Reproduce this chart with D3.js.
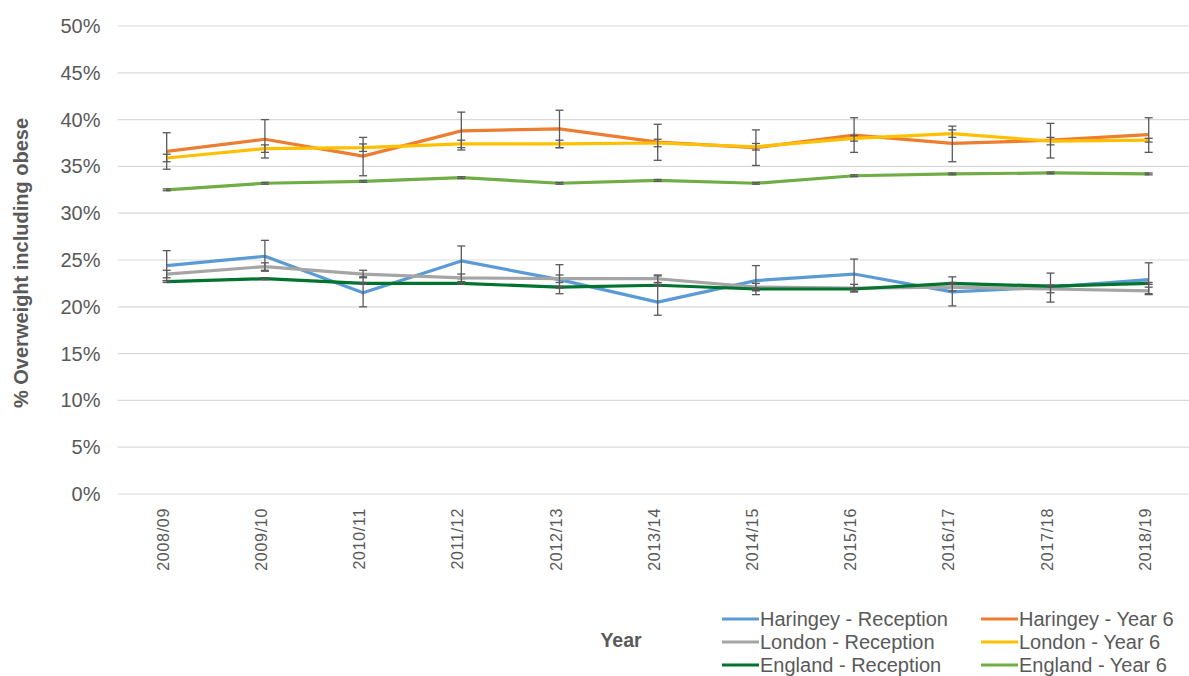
<!DOCTYPE html>
<html>
<head>
<meta charset="utf-8">
<script src="https://cdn.jsdelivr.net/npm/d3@7"></script>
<style>
  body { margin: 0; background: #fff; }
  svg { font-family: "Liberation Sans", Arial, sans-serif; display: block; }
</style>
</head>
<body>
<script>
const width = 1189;
const height = 676;

const years = ["2008/09", "2009/10", "2010/11", "2011/12", "2012/13", "2013/14",
  "2014/15", "2015/16", "2016/17", "2017/18", "2018/19"];
const yTicks = [0, 5, 10, 15, 20, 25, 30, 35, 40, 45, 50];

// values in %, with lower / upper confidence limits
const haringeyRec = [24.4, 25.4, 21.5, 24.9, 22.9, 20.5, 22.8, 23.5, 21.6, 22.1, 22.9];
const haringeyRecLo = [22.8, 23.8, 20.0, 23.0, 21.4, 19.1, 21.3, 21.6, 20.1, 20.5, 21.4];
const haringeyRecHi = [26.0, 27.1, 23.2, 26.5, 24.5, 23.3, 24.4, 25.1, 23.2, 23.6, 24.7];

const haringeyY6 = [36.6, 37.9, 36.1, 38.8, 39.0, 37.6, 37.0, 38.35, 37.45, 37.8, 38.4];
const haringeyY6Lo = [34.7, 35.9, 34.0, 36.75, 37.0, 35.65, 35.1, 36.5, 35.5, 35.9, 36.5];
const haringeyY6Hi = [38.6, 40.0, 38.1, 40.8, 41.0, 39.5, 38.9, 40.2, 39.3, 39.6, 40.2];

const londonRec = [23.5, 24.3, 23.5, 23.1, 23.0, 23.0, 22.1, 22.0, 22.1, 21.9, 21.7];
const londonRecLo = [23.1, 23.9, 23.1, 22.7, 22.6, 22.6, 21.7, 21.6, 21.7, 21.5, 21.3];
const londonRecHi = [23.9, 24.7, 23.9, 23.5, 23.4, 23.4, 22.5, 22.4, 22.5, 22.3, 22.1];

const londonY6 = [35.9, 36.9, 37.0, 37.4, 37.4, 37.5, 37.1, 38.0, 38.5, 37.7, 37.8];
const londonY6Lo = [35.5, 36.5, 36.6, 37.0, 37.0, 37.1, 36.75, 37.7, 38.1, 37.3, 37.6];
const londonY6Hi = [36.3, 37.3, 37.4, 37.8, 37.8, 37.9, 37.45, 38.3, 38.9, 38.1, 38.0];

const englandRec = [22.7, 23.0, 22.5, 22.5, 22.1, 22.3, 21.9, 21.9, 22.5, 22.2, 22.5];
const englandRecLo = [22.6, 22.9, 22.4, 22.4, 22.0, 22.2, 21.8, 21.8, 22.4, 22.1, 22.4];
const englandRecHi = [22.8, 23.1, 22.6, 22.6, 22.2, 22.4, 22.0, 22.0, 22.6, 22.3, 22.6];

const englandY6 = [32.5, 33.2, 33.4, 33.8, 33.2, 33.5, 33.2, 34.0, 34.2, 34.3, 34.2];
const englandY6Lo = [32.4, 33.1, 33.3, 33.7, 33.1, 33.4, 33.1, 33.9, 34.1, 34.2, 34.1];
const englandY6Hi = [32.6, 33.3, 33.5, 33.9, 33.3, 33.6, 33.3, 34.1, 34.3, 34.4, 34.3];

const seriesNames = ["Haringey - Reception", "Haringey - Year 6", "London - Reception",
  "London - Year 6", "England - Reception", "England - Year 6"];
const colour = ["#5B9BD5", "#ED7D31", "#A5A5A5", "#FFC000", "#00732E", "#70AD47"];

const series = [
  { v: haringeyRec, lo: haringeyRecLo, hi: haringeyRecHi },
  { v: haringeyY6, lo: haringeyY6Lo, hi: haringeyY6Hi },
  { v: londonRec, lo: londonRecLo, hi: londonRecHi },
  { v: londonY6, lo: londonY6Lo, hi: londonY6Hi },
  { v: englandRec, lo: englandRecLo, hi: englandRecHi },
  { v: englandY6, lo: englandY6Lo, hi: englandY6Hi },
].map((s, i) => ({ ...s, name: seriesNames[i], colour: colour[i] }));

const svg = d3.select("body").append("svg")
  .attr("width", width)
  .attr("height", height);

const x = d3.scaleBand().domain(years).range([117.6, 1197.8]);
const y = d3.scaleLinear().domain([0, 50]).range([494, 26]);
const cx = (i) => x(years[i]) + x.bandwidth() / 2;

// gridlines
svg.append("g")
  .selectAll("line")
  .data(yTicks)
  .join("line")
  .attr("x1", 117.6)
  .attr("x2", width)
  .attr("y1", (d) => y(d))
  .attr("y2", (d) => y(d))
  .attr("stroke", "#d9d9d9")
  .attr("stroke-width", 1.2);

// y axis labels
svg.append("g")
  .selectAll("text")
  .data(yTicks)
  .join("text")
  .attr("x", 100.5)
  .attr("y", (d) => y(d))
  .attr("dy", "0.35em")
  .attr("text-anchor", "end")
  .attr("font-size", 20)
  .attr("fill", "#595959")
  .text((d) => d + "%");

// x axis labels
svg.append("g")
  .selectAll("text")
  .data(years)
  .join("text")
  .attr("transform", (d) => `translate(${x(d) + x.bandwidth() / 2 + 2},508) rotate(-90)`)
  .attr("text-anchor", "end")
  .attr("font-size", 16)
  .attr("letter-spacing", 0.7)
  .attr("fill", "#595959")
  .text((d) => d);

// axis titles
svg.append("text")
  .attr("transform", "translate(28,263) rotate(-90)")
  .attr("text-anchor", "middle")
  .attr("font-size", 20)
  .attr("font-weight", "bold")
  .attr("fill", "#595959")
  .text("% Overweight including obese");

svg.append("text")
  .attr("x", 621)
  .attr("y", 647)
  .attr("text-anchor", "middle")
  .attr("font-size", 19.5)
  .attr("font-weight", "bold")
  .attr("fill", "#595959")
  .text("Year");

const line = d3.line()
  .x((d, i) => cx(i))
  .y((d) => y(d));

const groups = svg.append("g")
  .selectAll("g")
  .data(series)
  .join("g");

groups.append("path")
  .attr("d", (d) => line(d.v))
  .attr("fill", "none")
  .attr("stroke", (d) => d.colour)
  .attr("stroke-width", 3.2)
  .attr("stroke-linejoin", "round");

// error bars
groups.each(function (s) {
  const g = d3.select(this).append("g")
    .attr("stroke", "#595959")
    .attr("stroke-width", 1.3);
  s.v.forEach((v, i) => {
    const px = cx(i);
    g.append("line").attr("x1", px).attr("x2", px)
      .attr("y1", y(s.lo[i])).attr("y2", y(s.hi[i]));
    [s.lo[i], s.hi[i]].forEach((e) => {
      g.append("line").attr("x1", px - 4).attr("x2", px + 4)
        .attr("y1", y(e)).attr("y2", y(e));
    });
  });
});

// legend
const legend = svg.append("g")
  .selectAll("g")
  .data(series)
  .join("g")
  .attr("transform", (d, i) => `translate(${i % 2 === 0 ? 722 : 981},${619 + Math.floor(i / 2) * 23})`);

legend.append("line")
  .attr("x1", 0)
  .attr("x2", 37)
  .attr("stroke", (d) => d.colour)
  .attr("stroke-width", 3);

legend.append("text")
  .attr("x", 38)
  .attr("dy", "0.35em")
  .attr("font-size", 20)
  .attr("fill", "#595959")
  .text((d) => d.name);
</script>
</body>
</html>
